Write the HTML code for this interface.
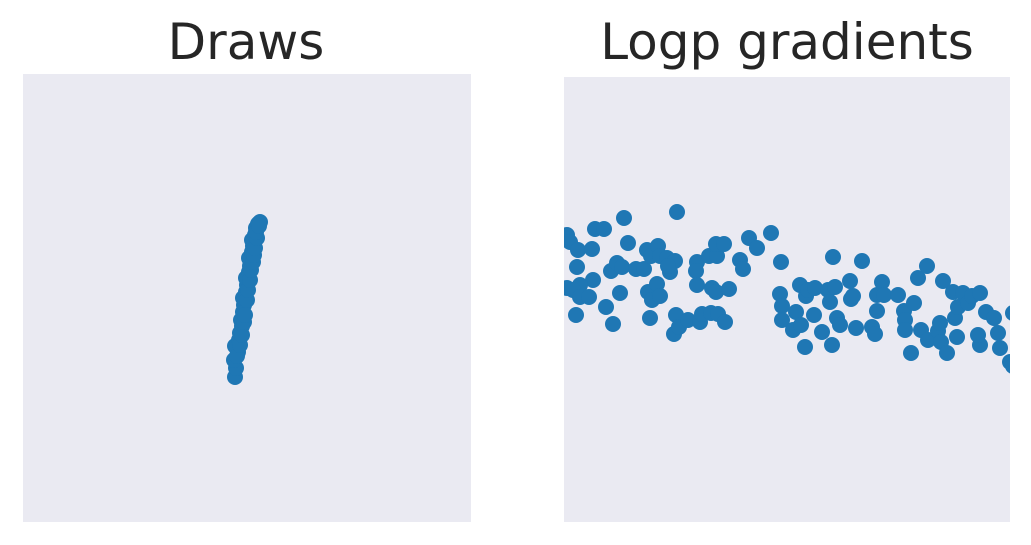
<!DOCTYPE html>
<html><head><meta charset="utf-8">
<style>
html,body{margin:0;padding:0;background:#fff;}
svg{display:block;font-family:"DejaVu Sans","Liberation Sans",sans-serif;}
</style></head>
<body>
<svg id="fig" width="1031" height="545" viewBox="0 0 1031 545">
  <defs>
    <clipPath id="clipL"><rect x="23" y="74" width="448" height="448"/></clipPath>
    <clipPath id="clipR"><rect x="564" y="77" width="446" height="445"/></clipPath>
  </defs>
  <rect x="23" y="74" width="448" height="448" fill="#eaeaf2"/>
  <rect x="564" y="77" width="446" height="445" fill="#eaeaf2"/>
  <text x="246" y="59" text-anchor="middle" font-size="50" fill="#262626">Draws</text>
  <text x="787" y="59" text-anchor="middle" font-size="50" fill="#262626">Logp gradients</text>
  <g id="gL" clip-path="url(#clipL)"></g>
  <g id="gR" clip-path="url(#clipR)"></g>
</svg>
<script>
const drawsX = [-1.2,-1.1,-1.3,-0.9,-1.2,-0.8,-0.7,-0.5,-0.6,-0.4,-0.3,-0.4,-0.1,0,-0.1,0.2,0.3,0.2,0.5,0.6,0.5,0.8,0.9,1.1,1.3,-1.0,-0.7,-0.5,-0.3,-0.2,0,0.1,0.3,0.4,0.6,0.7,0.8,1.0,0.9,1.2];
const drawsY = [-7.9,-7.0,-6.2,-5.4,-4.8,-4.2,-3.5,-2.8,-2.2,-1.4,-0.7,0,0.6,1.3,2.0,2.6,3.2,4.0,4.6,5.2,5.8,6.3,7.0,7.4,7.6,-5.8,-4.7,-3.7,-2.4,-1.7,-0.2,0.8,1.8,2.8,3.6,4.3,5.0,6.0,6.6,7.2];
const gradX = [-22.0,-21.7,-20.9,-19.5,-19.2,-18.3,-16.3,-21.0,-19.4,-20.7,-22.0,-21.4,-20.7,-19.8,-21.1,-18.1,-17.4,-16.7,-17.6,-17.0,-16.5,-15.9,-15.1,-14.3,-14.0,-13.6,-12.9,-12.7,-12.0,-11.2,-11.7,-11.9,-11.0,-9.0,-9.1,-9.0,-7.8,-7.0,-7.1,-6.3,-4.7,-4.4,-3.8,-3.0,-1.6,-0.6,-13.9,-13.5,-13.0,-12.7,-13.7,-11.1,-11.3,-10.8,-9.9,-8.7,-8.5,-7.5,-7.1,-7.6,-6.9,-6.2,-5.8,-0.7,-0.5,-0.5,0.6,0.9,1.3,1.4,1.9,2.1,1.8,2.8,2.7,3.5,4.1,4.3,4.6,4.8,5.0,5.3,6.4,6.3,6.6,6.9,7.5,8.5,8.8,9.0,9.0,9.5,9.7,11.1,11.7,11.8,11.8,12.4,12.7,13.1,13.4,14.0,14.1,15.1,15.3,15.4,15.6,16.0,16.6,17.0,16.8,17.1,17.6,18.1,18.5,19.3,19.3,19.1,19.9,20.7,21.1,21.3,22.3,22.6,22.6,4.5];
const gradY = [6.5,5.8,5.0,5.1,7.1,7.1,8.2,3.3,2.0,1.5,1.2,1.0,0.3,0.3,-1.5,-0.7,-2.4,0.7,2.9,3.7,3.3,5.7,3.1,3.1,5.0,4.4,5.4,4.4,4.2,3.9,2.8,3.4,8.8,3.8,2.9,1.5,4.4,4.4,5.6,5.6,4.0,3.1,6.2,5.2,6.7,3.8,0.8,0,1.6,0.4,-1.8,-1.5,-3.4,-2.7,-2.0,-2.2,-1.4,1.2,0.8,-1.3,-1.4,-2.2,1.1,0.6,-0.6,-2.0,-3.0,-1.2,1.5,-2.5,0.4,1.0,-4.7,1.2,-1.5,-3.2,1.0,-0.2,4.3,1.3,-1.8,-2.5,0.1,1.9,0.4,-2.8,3.9,-2.7,-3.4,-1.1,0.5,1.8,0.5,0.5,-1.1,-2.0,-3.0,-5.3,-0.3,2.2,-3.0,3.4,-4.0,-3.1,-2.3,-4.2,1.9,-5.3,0.8,-3.7,-1.8,-0.7,0.7,-0.3,0.4,0.7,-4.5,-3.5,-1.2,-1.8,-3.3,-4.8,-6.2,-6.6,-1.3,-4.5];

function scale(d0,d1,r0,r1){return v=>r0+(v-d0)/(d1-d0)*(r1-r0);}
const NS='http://www.w3.org/2000/svg';
const xL = scale(-22.4,22.4,23,471), yL = scale(-22.4,22.4,522,74);
const xR = scale(-22.3,22.3,564,1010), yR = scale(-22.2,22.3,522,77);

const gL=document.getElementById('gL');
for(let i=0;i<drawsX.length;i++){
  const c=document.createElementNS(NS,'circle');
  c.setAttribute('cx',xL(drawsX[i]));c.setAttribute('cy',yL(drawsY[i]));c.setAttribute('r',8);c.setAttribute('fill','#1f77b4');
  
  
  gL.appendChild(c);
}
const gR=document.getElementById('gR');
for(let i=0;i<gradX.length;i++){
  const c=document.createElementNS(NS,'circle');
  c.setAttribute('cx',xR(gradX[i]));c.setAttribute('cy',yR(gradY[i]));c.setAttribute('r',8);c.setAttribute('fill','#1f77b4');
  
  
  gR.appendChild(c);
}
</script>
</body></html>
